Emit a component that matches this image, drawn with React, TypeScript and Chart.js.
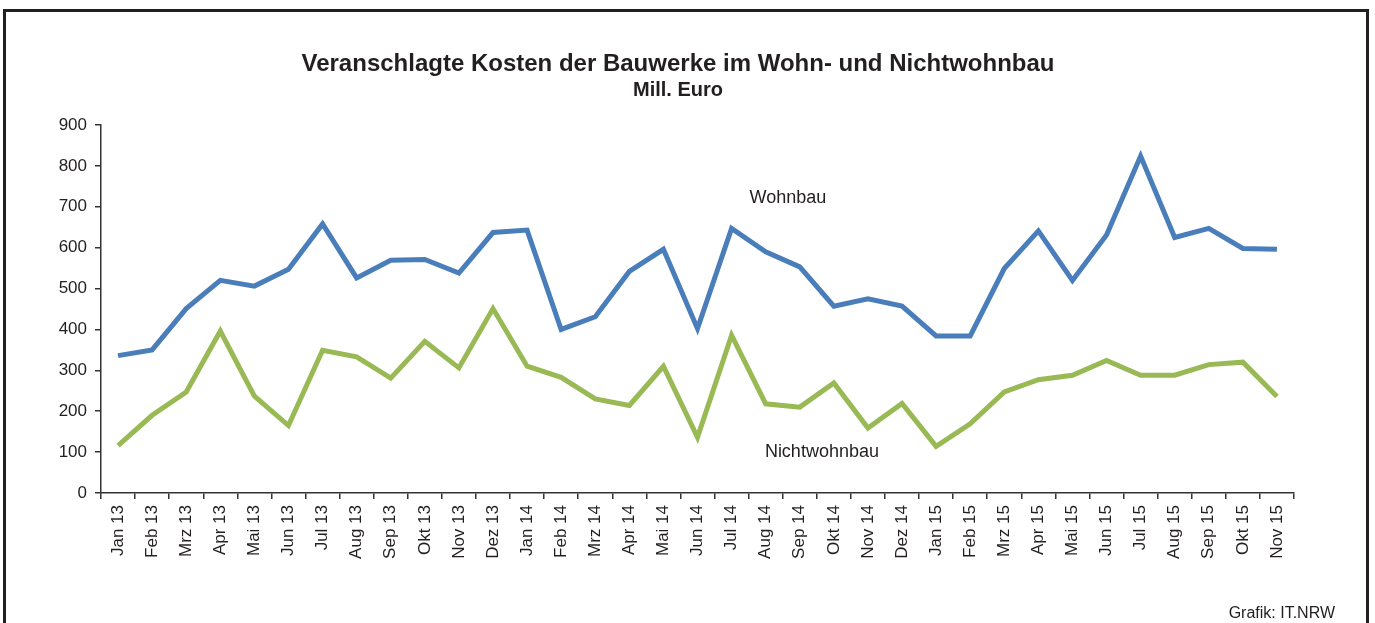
import React, { useEffect, useRef } from "react";
import { Chart, registerables } from "chart.js";

Chart.register(...registerables);

const categories = [
  "Jan 13", "Feb 13", "Mrz 13", "Apr 13", "Mai 13", "Jun 13", "Jul 13", "Aug 13", "Sep 13", "Okt 13", "Nov 13", "Dez 13",
  "Jan 14", "Feb 14", "Mrz 14", "Apr 14", "Mai 14", "Jun 14", "Jul 14", "Aug 14", "Sep 14", "Okt 14", "Nov 14", "Dez 14",
  "Jan 15", "Feb 15", "Mrz 15", "Apr 15", "Mai 15", "Jun 15", "Jul 15", "Aug 15", "Sep 15", "Okt 15", "Nov 15",
];

const wohnbau = [
  336, 350, 451, 520, 506, 547, 658, 526, 569, 571, 538, 637,
  643, 400, 431, 542, 596, 402, 647, 590, 553, 457, 475, 457,
  384, 384, 549, 641, 520, 631, 824, 625, 647, 598, 596,
];

const nichtwohnbau = [
  116, 190, 247, 396, 237, 165, 349, 333, 281, 371, 306, 451,
  310, 283, 230, 214, 310, 136, 386, 218, 210, 269, 159, 219,
  114, 169, 247, 277, 288, 324, 288, 288, 314, 320, 236,
];

const yTicks = [0, 100, 200, 300, 400, 500, 600, 700, 800, 900];

const titleText = "Veranschlagte Kosten der Bauwerke im Wohn- und Nichtwohnbau";
const subtitleText = "Mill. Euro";
const sourceText = "Grafik: IT.NRW";
const seriesNames = ["Wohnbau", "Nichtwohnbau"];
// label anchors in data space: [category index (fractional), value]
const labelAnchors: [number, number][] = [
  [19.65, 721],
  [20.65, 100],
];

const FONT = "'Liberation Sans', Arial, sans-serif";
const TEXT = "#231f20";

export default function App() {
  const ref = useRef<HTMLCanvasElement | null>(null);

  useEffect(() => {
    if (!ref.current) return;
    const textPlugin = {
      id: "textPlugin",
      afterDraw(chart: any) {
        const ctx = chart.ctx;
        const xs = chart.scales.x;
        const ys = chart.scales.y;
        ctx.save();
        ctx.fillStyle = TEXT;
        ctx.textAlign = "center";
        ctx.textBaseline = "middle";
        ctx.font = `bold 24px ${FONT}`;
        ctx.fillText(titleText, 678, 64);
        ctx.font = `bold 20px ${FONT}`;
        ctx.fillText(subtitleText, 678, 90);
        ctx.font = `18px ${FONT}`;
        labelAnchors.forEach(([ix, v], i) => {
          const x0 = xs.getPixelForValue(Math.floor(ix));
          const x1 = xs.getPixelForValue(Math.floor(ix) + 1);
          const x = x0 + (x1 - x0) * (ix - Math.floor(ix));
          ctx.fillText(seriesNames[i], x, ys.getPixelForValue(v));
        });
        ctx.font = `16px ${FONT}`;
        ctx.textAlign = "right";
        ctx.fillText(sourceText, 1335, 614);
        ctx.restore();
      },
    };

    const chart = new Chart(ref.current, {
      type: "line",
      data: {
        labels: categories,
        datasets: [
          {
            label: seriesNames[0],
            data: wohnbau,
            borderColor: "#4a7ebb",
            backgroundColor: "#4a7ebb",
            borderWidth: 5,
            pointRadius: 0,
            tension: 0,
          },
          {
            label: seriesNames[1],
            data: nichtwohnbau,
            borderColor: "#98b954",
            backgroundColor: "#98b954",
            borderWidth: 5,
            pointRadius: 0,
            tension: 0,
          },
        ],
      },
      options: {
        animation: false,
        responsive: false,
        devicePixelRatio: 1,
        layout: { padding: { left: 0, top: 125, right: 1375 - 1294, bottom: 0 } },
        plugins: {
          legend: { display: false },
          title: { display: false },
          tooltip: { enabled: false },
        },
        scales: {
          x: {
            type: "category",
            offset: true,
            grid: {
              offset: true,
              drawOnChartArea: false,
              drawTicks: true,
              tickLength: 6,
              color: "#333",
              lineWidth: 1.5,
            },
            border: { display: true, color: "#333", width: 1.5 },
            ticks: {
              autoSkip: false,
              maxRotation: 90,
              minRotation: 90,
              padding: 6,
              color: TEXT,
              font: { family: FONT, size: 17 },
            },
            afterFit(scale: any) {
              scale.height = 623 - 493;
            },
          },
          y: {
            min: 0,
            max: 900,
            afterBuildTicks(scale: any) {
              scale.ticks = yTicks.map((v) => ({ value: v }));
            },
            grid: {
              drawOnChartArea: false,
              drawTicks: true,
              tickLength: 6,
              color: "#333",
              lineWidth: 1.5,
            },
            border: { display: true, color: "#333", width: 1.5 },
            ticks: {
              padding: 8,
              color: TEXT,
              font: { family: FONT, size: 17 },
            },
            afterFit(scale: any) {
              scale.width = 101;
            },
          },
        },
      },
      plugins: [textPlugin],
    });
    return () => chart.destroy();
  }, []);

  return (
    <div style={{ position: "fixed", left: 0, top: 0, width: 1375, height: 623, background: "#fff" }}>
      <div
        style={{
          position: "absolute",
          left: 3,
          top: 9,
          width: 1366,
          height: 700,
          borderLeft: "3px solid #231f20",
          borderTop: "3px solid #231f20",
          borderRight: "3px solid #231f20",
          boxSizing: "border-box",
        }}
      />
      <canvas
        ref={ref}
        width={1375}
        height={623}
        style={{ position: "absolute", left: 0, top: 0, width: 1375, height: 623 }}
      />
    </div>
  );
}
